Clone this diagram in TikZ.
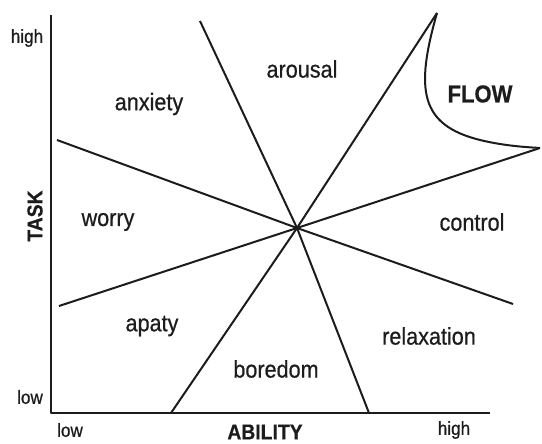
\documentclass[tikz,border=0pt]{standalone}
\usepackage{fontspec}
\setmainfont[FakeStretch=0.9,FakeBold=0.6]{Liberation Sans}
\usetikzlibrary{positioning}
\definecolor{ChartInk}{HTML}{1C1C1C}
\tikzset{every node/.style={text=ChartInk},zone/.style={font=\fontsize{24}{28}\selectfont},
 tick/.style={font=\fontsize{19}{22}\selectfont},
 axislabel/.style={font=\fontsize{21.5}{25}\selectfont\bfseries},
 chart/.style={draw=ChartInk,line width=2pt,line join=round}}

\begin{document}
\begin{tikzpicture}[x=1pt,y=-1pt]
\useasboundingbox (0,0) rectangle (542,444);
\coordinate (top) at (51,15);\coordinate (org) at (51,413);\coordinate (right) at (490,413);
\coordinate (mid) at (297,228);
\foreach \n/\x/\y in {aT/200/21,aB/369/413,bT/437/13,bB/171/413,cL/57/140,cR/513/304,dL/59/306,dR/540/148}
 \coordinate (\n) at (\x,\y);
\draw[chart] (top)--(org)--(right);
\foreach \a/\b in {aT/aB,bT/bB,cL/cR,dL/dR}
 \draw[chart] (\a)--(mid)--(\b);
% flow channel edge
\draw[chart] (bT) .. controls (415,90) and (420,125) .. (480,140) .. controls (505,146) and (525,147) .. (dR);
\foreach \n/\x/\y in {anxiety/149/104,arousal/302/69,worry/108/222,control/472/222,apaty/152/326,relaxation/429/336,boredom/276/369}
 \node[zone] (\n) at (\x,\y) {\n};
\node[axislabel,font=\fontsize{24.5}{28}\selectfont\bfseries] (flow) at (480,94) {FLOW};
\node[axislabel,rotate=90] (task) at (35,216) {TASK};
\node[axislabel] (ability) at (265,432) {ABILITY};
\node[tick] (yhigh) at (27,38) {high};
\node[tick] (ylow) at (30,397) {low};
\node[tick] (xlow) at (70,430) {low};
\node[tick] (xhigh) at (454,430) {high};
\end{tikzpicture}
\end{document}
